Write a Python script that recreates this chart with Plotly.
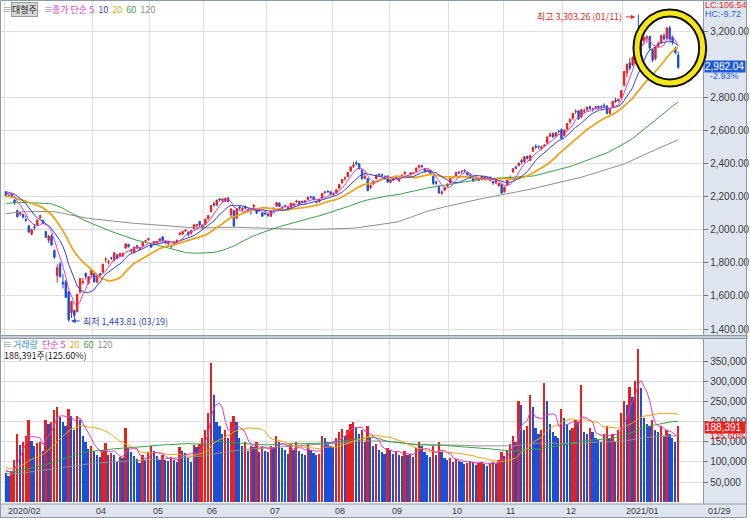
import plotly.graph_objects as go
import pandas as pd

# ---------------- data ----------------
month_len = [9, 22, 20, 19, 22, 23, 20, 21, 19, 21, 21, 20]   # trading days per month shown
month_tick_labels = ["2020/02", "03", "04", "05", "06", "07", "08", "09", "10", "11", "12", "2021/01"]

open_ = [
    2230, 2207, 2215, 2180, 2117, 2095, 2093, 2062, 2025,
    1973, 2018, 2030, 2076, 2058, 1990, 1936, 1962, 1875, 1723, 1794, 1684, 1686, 1626, 1498, 1514, 1505, 1622, 1681, 1737, 1677, 1726,
    1737, 1684, 1736, 1744, 1822, 1804, 1833, 1814, 1848, 1841, 1841, 1890, 1911, 1872, 1861, 1904, 1880, 1902, 1932, 1941,
    1911, 1917, 1922, 1936, 1958, 1928, 1914, 1904, 1911, 1929, 1973, 1975, 1993, 1986, 1978, 2007, 2024, 2050, 2011,
    2035, 2068, 2110, 2158, 2150, 2188, 2177, 2173, 2193, 2090, 2115, 2070, 2139, 2122, 2138, 2123, 2128, 2140, 2120, 2116, 2104, 2098,
    2093, 2082, 2120, 2143, 2163, 2132, 2143, 2135, 2137, 2150, 2168, 2172, 2166, 2176, 2183, 2199, 2199, 2168, 2170, 2195, 2226, 2233, 2230,
    2215, 2222, 2252, 2284, 2310, 2322, 2356, 2384, 2406, 2400, 2362, 2312, 2310, 2256, 2277, 2309, 2337, 2334, 2322, 2325,
    2290, 2302, 2322, 2296, 2320, 2340, 2326, 2335, 2342, 2355, 2378, 2388, 2370, 2355, 2360, 2324, 2290, 2265, 2222, 2240, 2266,
    2285, 2318, 2325, 2348, 2350, 2360, 2350, 2333, 2310, 2305, 2306, 2308, 2318, 2310, 2318, 2293, 2283, 2268, 2276,
    2230, 2270, 2312, 2350, 2380, 2388, 2420, 2412, 2445, 2420, 2475, 2506, 2505, 2492, 2508, 2525, 2566, 2582, 2568, 2596, 2606,
    2570, 2610, 2655, 2675, 2714, 2720, 2682, 2720, 2726, 2745, 2730, 2740, 2748, 2745, 2752, 2750, 2705, 2745, 2785, 2780, 2800,
    2875, 2950, 3010, 2995, 3052, 3190, 3160, 3145, 3160, 3170, 3090, 3035, 3115, 3134, 3175, 3160, 3222, 3165, 3100, 3058,
]
high = [
    2234, 2215, 2224, 2186, 2119, 2110, 2099, 2086, 2027,
    2004, 2035, 2062, 2092, 2060, 1992, 1968, 1974, 1882, 1791, 1805, 1732, 1697, 1627, 1566, 1516, 1611, 1706, 1709, 1741, 1720, 1757,
    1740, 1728, 1737, 1794, 1833, 1819, 1836, 1862, 1852, 1858, 1864, 1918, 1916, 1880, 1896, 1906, 1898, 1923, 1937, 1948,
    1913, 1932, 1934, 1948, 1961, 1939, 1934, 1912, 1929, 1941, 1982, 1994, 2002, 1993, 1998, 2036, 2034, 2055, 2030,
    2066, 2087, 2148, 2171, 2182, 2190, 2189, 2193, 2196, 2132, 2117, 2133, 2146, 2138, 2147, 2130, 2133, 2155, 2126, 2127, 2106, 2111,
    2097, 2116, 2135, 2168, 2166, 2143, 2152, 2139, 2163, 2160, 2182, 2176, 2176, 2177, 2200, 2206, 2202, 2175, 2186, 2223, 2235, 2240, 2236,
    2225, 2245, 2276, 2307, 2324, 2350, 2386, 2410, 2418, 2404, 2366, 2340, 2312, 2276, 2300, 2334, 2340, 2340, 2330, 2330,
    2302, 2316, 2330, 2315, 2334, 2352, 2332, 2348, 2350, 2376, 2392, 2394, 2373, 2368, 2362, 2325, 2296, 2266, 2240, 2260, 2280,
    2314, 2326, 2350, 2354, 2360, 2366, 2352, 2334, 2318, 2320, 2312, 2326, 2322, 2320, 2322, 2296, 2300, 2285, 2280,
    2262, 2302, 2330, 2372, 2388, 2406, 2430, 2446, 2448, 2452, 2502, 2518, 2510, 2506, 2520, 2565, 2590, 2590, 2592, 2605, 2615,
    2606, 2646, 2675, 2706, 2730, 2724, 2730, 2735, 2746, 2752, 2740, 2750, 2750, 2752, 2765, 2752, 2735, 2780, 2800, 2795, 2845,
    2960, 3005, 3040, 3050, 3180, 3303.26, 3190, 3175, 3178, 3174, 3092, 3107, 3140, 3182, 3190, 3225, 3235, 3175, 3110, 3080,
]
low = [
    2200, 2197, 2190, 2152, 2076, 2084, 2068, 2052, 1980,
    1967, 2000, 2026, 2064, 2034, 1953, 1919, 1904, 1825, 1680, 1714, 1645, 1591, 1443.81, 1466, 1458, 1500, 1613, 1668, 1700, 1670, 1713,
    1681, 1675, 1711, 1736, 1803, 1790, 1816, 1812, 1822, 1835, 1836, 1885, 1893, 1859, 1860, 1887, 1877, 1900, 1919, 1934,
    1891, 1910, 1914, 1929, 1933, 1917, 1910, 1892, 1905, 1915, 1966, 1969, 1988, 1962, 1972, 2002, 2008, 2018, 2004,
    2025, 2062, 2105, 2140, 2143, 2170, 2165, 2167, 2164, 2078, 2018, 2067, 2122, 2114, 2122, 2105, 2092, 2131, 2097, 2109, 2078, 2090,
    2078, 2079, 2116, 2140, 2138, 2124, 2135, 2120, 2133, 2142, 2165, 2152, 2160, 2158, 2180, 2190, 2178, 2160, 2166, 2192, 2218, 2222, 2209,
    2205, 2218, 2248, 2280, 2296, 2318, 2350, 2374, 2390, 2366, 2300, 2308, 2232, 2246, 2270, 2305, 2322, 2318, 2305, 2283,
    2282, 2296, 2308, 2290, 2315, 2332, 2315, 2330, 2335, 2350, 2370, 2376, 2348, 2350, 2334, 2272, 2272, 2218, 2210, 2236, 2260,
    2280, 2308, 2322, 2338, 2340, 2348, 2328, 2308, 2290, 2300, 2294, 2304, 2300, 2302, 2294, 2272, 2278, 2260, 2218,
    2225, 2266, 2300, 2345, 2365, 2385, 2395, 2405, 2425, 2418, 2470, 2490, 2488, 2484, 2500, 2520, 2560, 2555, 2562, 2582, 2550,
    2565, 2602, 2640, 2665, 2700, 2665, 2680, 2705, 2715, 2726, 2715, 2728, 2728, 2730, 2738, 2700, 2698, 2740, 2768, 2770, 2795,
    2866, 2925, 2965, 2990, 3052, 3110, 3080, 3120, 3130, 3090, 3015, 3025, 3100, 3122, 3145, 3150, 3140, 3120, 3062, 2975,
]
close = [
    2209, 2210, 2196, 2163, 2079, 2104, 2077, 2055, 1987,
    2003, 2014, 2059, 2085, 2040, 1955, 1963, 1908, 1834, 1771, 1715, 1672, 1591, 1458, 1566, 1482, 1610, 1705, 1686, 1718, 1717, 1755,
    1685, 1725, 1725, 1792, 1824, 1807, 1830, 1861, 1826, 1857, 1857, 1915, 1898, 1879, 1896, 1889, 1889, 1923, 1935, 1948,
    1895, 1929, 1929, 1946, 1935, 1922, 1925, 1898, 1927, 1937, 1981, 1990, 1998, 1970, 1995, 2030, 2031, 2029, 2030,
    2065, 2087, 2147, 2150, 2180, 2182, 2186, 2191, 2172, 2125, 2023, 2130, 2133, 2130, 2132, 2117, 2121, 2150, 2101, 2122, 2082, 2096,
    2086, 2114, 2131, 2165, 2141, 2136, 2144, 2127, 2161, 2158, 2175, 2157, 2173, 2169, 2198, 2197, 2183, 2167, 2183, 2221, 2228, 2231, 2213,
    2215, 2243, 2275, 2305, 2314, 2348, 2380, 2393, 2398, 2369, 2311, 2323, 2238, 2268, 2293, 2332, 2332, 2329, 2316, 2289,
    2298, 2312, 2316, 2312, 2332, 2349, 2324, 2344, 2344, 2374, 2390, 2382, 2353, 2359, 2337, 2281, 2282, 2223, 2229, 2257, 2277,
    2311, 2319, 2348, 2344, 2355, 2356, 2333, 2314, 2295, 2311, 2300, 2323, 2308, 2314, 2297, 2284, 2298, 2280, 2222,
    2257, 2300, 2314, 2370, 2373, 2404, 2410, 2442, 2432, 2450, 2499, 2500, 2502, 2504, 2512, 2562, 2578, 2563, 2588, 2595, 2553,
    2604, 2643, 2668, 2704, 2717, 2672, 2727, 2718, 2742, 2734, 2728, 2743, 2741, 2743, 2749, 2704, 2730, 2777, 2778, 2790, 2842,
    2958, 3002, 2978, 3044, 3170, 3165, 3142, 3164, 3166, 3100, 3027, 3105, 3128, 3175, 3155, 3222, 3153, 3133, 3072, 2982.04,
]
volume = [
    72000, 66000, 78000, 105000, 168000, 142000, 150000, 163000, 205000,
    152000, 140000, 148000, 150000, 128000, 205000, 195000, 198000, 228000, 235000, 212000, 198000, 190000, 232000, 215000, 178000, 215000, 205000, 165000, 150000, 132000, 140000,
    128000, 118000, 112000, 130000, 148000, 118000, 122000, 118000, 100000, 112000, 110000, 185000, 135000, 125000, 115000, 108000, 98000, 118000, 105000, 125000,
    140000, 128000, 115000, 105000, 118000, 105000, 102000, 112000, 104000, 100000, 138000, 126000, 122000, 110000, 100000, 142000, 136000, 145000, 158000,
    180000, 222000, 346000, 265000, 200000, 190000, 168000, 178000, 160000, 198000, 215000, 198000, 158000, 140000, 150000, 128000, 140000, 138000, 150000, 125000, 138000, 128000,
    125000, 140000, 138000, 165000, 150000, 135000, 130000, 120000, 145000, 130000, 150000, 128000, 120000, 118000, 145000, 130000, 122000, 118000, 120000, 165000, 160000, 150000, 140000,
    138000, 160000, 175000, 182000, 165000, 180000, 195000, 200000, 185000, 170000, 178000, 150000, 190000, 158000, 140000, 145000, 130000, 125000, 120000, 135000,
    130000, 120000, 125000, 118000, 115000, 128000, 118000, 120000, 112000, 135000, 150000, 140000, 125000, 118000, 112000, 140000, 118000, 150000, 125000, 110000, 105000,
    110000, 100000, 108000, 102000, 100000, 95000, 98000, 102000, 100000, 92000, 98000, 100000, 95000, 90000, 98000, 100000, 95000, 105000, 125000,
    115000, 130000, 145000, 165000, 150000, 250000, 240000, 180000, 190000, 265000, 235000, 185000, 170000, 180000, 295000, 250000, 195000, 175000, 165000, 160000, 230000,
    210000, 195000, 180000, 185000, 205000, 200000, 290000, 175000, 170000, 185000, 175000, 160000, 155000, 150000, 170000, 190000, 160000, 170000, 150000, 180000, 220000,
    250000, 240000, 285000, 260000, 300000, 381000, 282000, 210000, 195000, 190000, 205000, 180000, 175000, 190000, 165000, 180000, 170000, 160000, 150000, 188391,
]
# closes / volumes of the sessions before the window (feed the moving averages)
prior_close = [
    1926, 1923, 1891, 1923, 1935, 1908, 1942, 1944, 1940, 1963, 1979, 1984, 1995, 2007, 2024,
    2037, 2037, 2045, 2047, 2066, 2076, 2066, 2052, 2049, 2024, 2038, 2042, 2006, 1996,
    1995, 2021, 2022, 2019, 2042, 2043, 2055, 2052, 2035, 2051, 2064, 2060, 2057, 2060,
    2068, 2056, 2055, 2058, 2075, 2105, 2117, 2119, 2119, 2112, 2099, 2115, 2097, 2114, 2137,
    2135, 2133, 2100, 2071, 2076, 2098, 2096, 2096, 2075, 2062, 2066, 2043, 2043, 2036, 2056,
    2062, 2073, 2080, 2112, 2145, 2144, 2171, 2170, 2171, 2179, 2178, 2165, 2172, 2179, 2173,
    2175, 2176, 2155, 2175, 2151, 2186, 2206, 2229, 2238, 2230, 2248, 2250, 2262, 2239, 2267, 2246,
    2176, 2185, 2148, 2119, 2118, 2165, 2157, 2228, 2211, 2201, 2223, 2238, 2232, 2243, 2242,
]
prior_volume = [
    58000, 62000, 55000, 70000, 66000, 61000, 59000, 64000, 72000, 68000, 75000, 63000, 60000, 57000, 66000,
    71000, 69000, 62000, 58000, 64000, 67000, 73000, 60000, 56000, 62000, 65000, 59000, 61000, 70000, 68000,
    64000, 58000, 55000, 60000, 66000, 62000, 59000, 63000, 69000, 72000, 65000, 61000, 57000, 60000, 64000,
    70000, 75000, 68000, 62000, 59000, 63000, 66000, 71000, 67000, 60000, 58000, 62000, 65000, 69000, 74000,
    80000, 72000, 66000, 61000, 63000, 68000, 70000, 65000, 60000, 57000, 62000, 66000, 71000, 76000, 69000,
    64000, 60000, 58000, 63000, 67000, 72000, 78000, 70000, 65000, 62000, 68000, 74000, 80000, 85000, 77000,
    72000, 69000, 75000, 82000, 88000, 79000, 73000, 70000, 76000, 84000, 90000, 95000, 86000, 80000, 92000,
    98000, 88000, 84000, 91000, 87000, 82000, 79000, 85000, 90000, 83000, 78000, 86000, 81000, 76000,
]

price_ticks = [1400, 1600, 1800, 2000, 2200, 2400, 2600, 2800, 3200]
volume_ticks = [50000, 100000, 150000, 200000, 250000, 300000, 350000]

# ---------------- helpers ----------------
n = min(len(open_), len(high), len(low), len(close), len(volume))
idx = list(range(n))
W, H = 750, 518
def PX(p): return p / W
def PY(p): return 1 - p / H

UP, DOWN = "#e8211c", "#1b4fd6"
C5, C10, C20, C60, C120 = "#e03cc4", "#3342c4", "#e9a51c", "#3c9e4c", "#8e8e8e"

cs = pd.Series(prior_close + close[:n])
vs = pd.Series(prior_volume + volume[:n])
def ma(s, k, off):
    return s.rolling(k, min_periods=1).mean().iloc[off:].tolist()

starts = [0]
for m in month_len[:-1]:
    starts.append(starts[-1] + m)
grid_idx = [s - 0.5 for k, s in enumerate(starts) if k != 1]

x_range = [(1 - 6) / 2.86, (706 - 6) / 2.86]
k_p = 0.16528
p_range = [1400 - (336 - 329) / k_p, 1400 + (329 - 1) / k_p]
v_range = [-(503.5 - 502.2) * 2480, (502.2 - 339) * 2480]

fig = go.Figure()
fig.add_trace(go.Candlestick(
    x=idx, open=open_[:n], high=high[:n], low=low[:n], close=close[:n],
    increasing=dict(line=dict(color=UP, width=1), fillcolor=UP),
    decreasing=dict(line=dict(color=DOWN, width=1), fillcolor=DOWN),
    whiskerwidth=0, xaxis="x", yaxis="y", showlegend=False, hoverinfo="skip"))
for k, col, w in [(120, C120, 1), (60, C60, 1), (20, C20, 1.8), (10, C10, 1), (5, C5, 1)]:
    fig.add_trace(go.Scatter(x=idx, y=ma(cs, k, len(prior_close)), mode="lines",
                             line=dict(color=col, width=w), xaxis="x", yaxis="y",
                             showlegend=False, hoverinfo="skip"))

prev_v = [prior_volume[-1]] + volume[:n - 1]
vcol = [UP if volume[i] >= prev_v[i] else DOWN for i in range(n)]
fig.add_trace(go.Bar(x=idx, y=volume[:n], marker=dict(color=vcol, line=dict(width=0)),
                     width=0.62, xaxis="x2", yaxis="y2", showlegend=False, hoverinfo="skip"))
for k, col in [(120, C120), (60, C60), (20, C20), (5, C5)]:
    fig.add_trace(go.Scatter(x=idx, y=ma(vs, k, len(prior_volume)), mode="lines",
                             line=dict(color=col, width=1), xaxis="x2", yaxis="y2",
                             showlegend=False, hoverinfo="skip"))

NUMF = "Liberation Sans Narrow, Arial Narrow, Liberation Sans, sans-serif"
tickfont = dict(family=NUMF, size=10, color="#3a3a3a")
KR = "Noto Sans CJK KR"
xcommon = dict(domain=[PX(1), PX(706)], range=x_range, tickvals=grid_idx, showticklabels=False,
               showgrid=True, gridcolor="#dedede", gridwidth=1, zeroline=False, ticks="",
               showline=False, fixedrange=True)
fig.update_layout(
    width=W, height=H, margin=dict(l=0, r=0, t=0, b=0),
    paper_bgcolor="white", plot_bgcolor="white", showlegend=False,
    bargap=0,
    xaxis=dict(**xcommon, anchor="y", rangeslider=dict(visible=False)),
    xaxis2=dict(**xcommon, anchor="y2", matches="x"),
    yaxis=dict(domain=[PY(336), PY(1)], range=p_range, side="right", anchor="x",
               tickvals=price_ticks, tickformat=",.2f", ticks="outside", ticklen=4,
               tickcolor="#6b7380", tickfont=tickfont, showgrid=True, gridcolor="#dedede",
               zeroline=False, showline=True, linecolor="#8e98a6", fixedrange=True),
    yaxis2=dict(domain=[PY(503.5), PY(339)], range=v_range, side="right", anchor="x2",
                tickvals=volume_ticks, tickformat=",d", ticks="outside", ticklen=4,
                tickcolor="#6b7380", tickfont=tickfont, showgrid=True, gridcolor="#dedede",
                zeroline=False, showline=True, linecolor="#8e98a6", fixedrange=True),
)

shapes = [
    dict(type="rect", xref="paper", yref="paper", x0=PX(706), x1=1, y0=0, y1=1,
         fillcolor="#dfe5ee", line=dict(width=0), layer="below"),
    dict(type="rect", xref="paper", yref="paper", x0=0, x1=1, y0=0, y1=PY(504),
         fillcolor="#dfe5ee", line=dict(width=0), layer="below"),
    dict(type="rect", xref="paper", yref="paper", x0=0, x1=1, y0=PY(338.5), y1=PY(335.5),
         fillcolor="#c5ccd6", line=dict(color="#8e98a6", width=1), layer="above"),
    dict(type="line", xref="paper", yref="paper", x0=0, x1=1, y0=PY(504), y1=PY(504),
         line=dict(color="#8e98a6", width=1), layer="above"),
    dict(type="rect", xref="paper", yref="paper", x0=PX(0.5), x1=PX(749.5), y0=PY(517.5), y1=PY(0.5),
         line=dict(color="#8e98a6", width=1), layer="above"),
    dict(type="circle", xref="paper", yref="paper", x0=PX(639.5), x1=PX(705.5), y0=PY(83), y1=PY(13),
         line=dict(color="#111111", width=9), layer="above"),
    dict(type="circle", xref="paper", yref="paper", x0=PX(639.5), x1=PX(705.5), y0=PY(83), y1=PY(13),
         line=dict(color="#f5e61a", width=5), layer="above"),
]
fig.update_layout(shapes=shapes)

ann = []
def txt(x, y, text, color="#222", size=9, anchor="left", family=KR, **kw):
    d = dict(xref="paper", yref="paper", x=PX(x), y=PY(y), text=text, showarrow=False,
             xanchor=anchor, yanchor="middle", font=dict(family=family, size=size, color=color))
    d.update(kw)
    ann.append(d)

# legends
txt(1, 10, "≡", "#7a7a7a", 9)
txt(11, 10, "대형주", "#222", 9, bgcolor="#d6d6d6", bordercolor="#9a9a9a", borderwidth=1, borderpad=0)
txt(42, 10, "≡", "#7a7a7a", 9)
txt(50, 10, f'<span style="color:{C5}">종가 단순 5</span>  <span style="color:{C10}">10</span>  '
            f'<span style="color:{C20}">20</span>  <span style="color:{C60}">60</span>  '
            f'<span style="color:{C120}">120</span>', "#222", 9)
txt(1, 344, "≡", "#7a7a7a", 9)
txt(11, 344, f'<span style="color:#3a96cc">거래량</span>  <span style="color:{C5}">단순 5</span>  '
             f'<span style="color:{C20}">20</span>  <span style="color:{C60}">60</span>  '
             f'<span style="color:{C120}">120</span>', "#222", 9)
txt(2, 355, "188,391주(125.60%)", "#222", 9)

# right-axis boxes
txt(706, 5, "LC:106.54", "#e0302a", 9, family=NUMF)
txt(706, 14, "HC:-9.72", "#2e68c8", 9, family=NUMF)
txt(707, 67, "2,982.04", "white", 10, family=NUMF, bgcolor="#1d5bd6", width=40, align="left", borderpad=0)
txt(711, 76, "-2.93%", "#1d5bd6", 9, family=NUMF)
txt(707, 427, "188,391", "white", 10, family=NUMF, bgcolor="#e8211c", width=40, align="left", borderpad=0)
txt(711, 436, "125.60%", "#e8211c", 9, family=NUMF)

# x labels in bottom strip
for s, lab in zip(starts, month_tick_labels):
    if lab == "03":
        continue
    ann.append(dict(xref="x", yref="paper", x=s - 0.5 + 0.4, y=PY(511), text=lab, showarrow=False,
                    xanchor="left", yanchor="middle", font=dict(family=NUMF, size=9, color="#3a3a3a")))
txt(709, 511, "01/29", "#3a3a3a", 9, family=NUMF)

# max / min markers
hi_i = max(range(n), key=lambda i: high[i])
lo_i = min(range(n), key=lambda i: low[i])
txt(627, 16, f"최고 {high[hi_i]:,.2f} (01/11)", "#e0302a", 9, anchor="right")
ann.append(dict(xref="x", yref="y", x=hi_i - 1.1, y=high[hi_i] - 15, ax=-11, ay=0, text="",
                showarrow=True, arrowhead=2, arrowsize=0.9, arrowwidth=1, arrowcolor="#e0302a"))
txt(81, 321, f"최저 {low[lo_i]:,.2f} (03/19)", "#2a48c8", 9)
ann.append(dict(xref="x", yref="y", x=lo_i + 0.9, y=low[lo_i] + 5, ax=10, ay=0, text="",
                showarrow=True, arrowhead=2, arrowsize=0.9, arrowwidth=1, arrowcolor="#2a48c8"))

fig.update_layout(annotations=ann)
fig.write_html("out.html")
